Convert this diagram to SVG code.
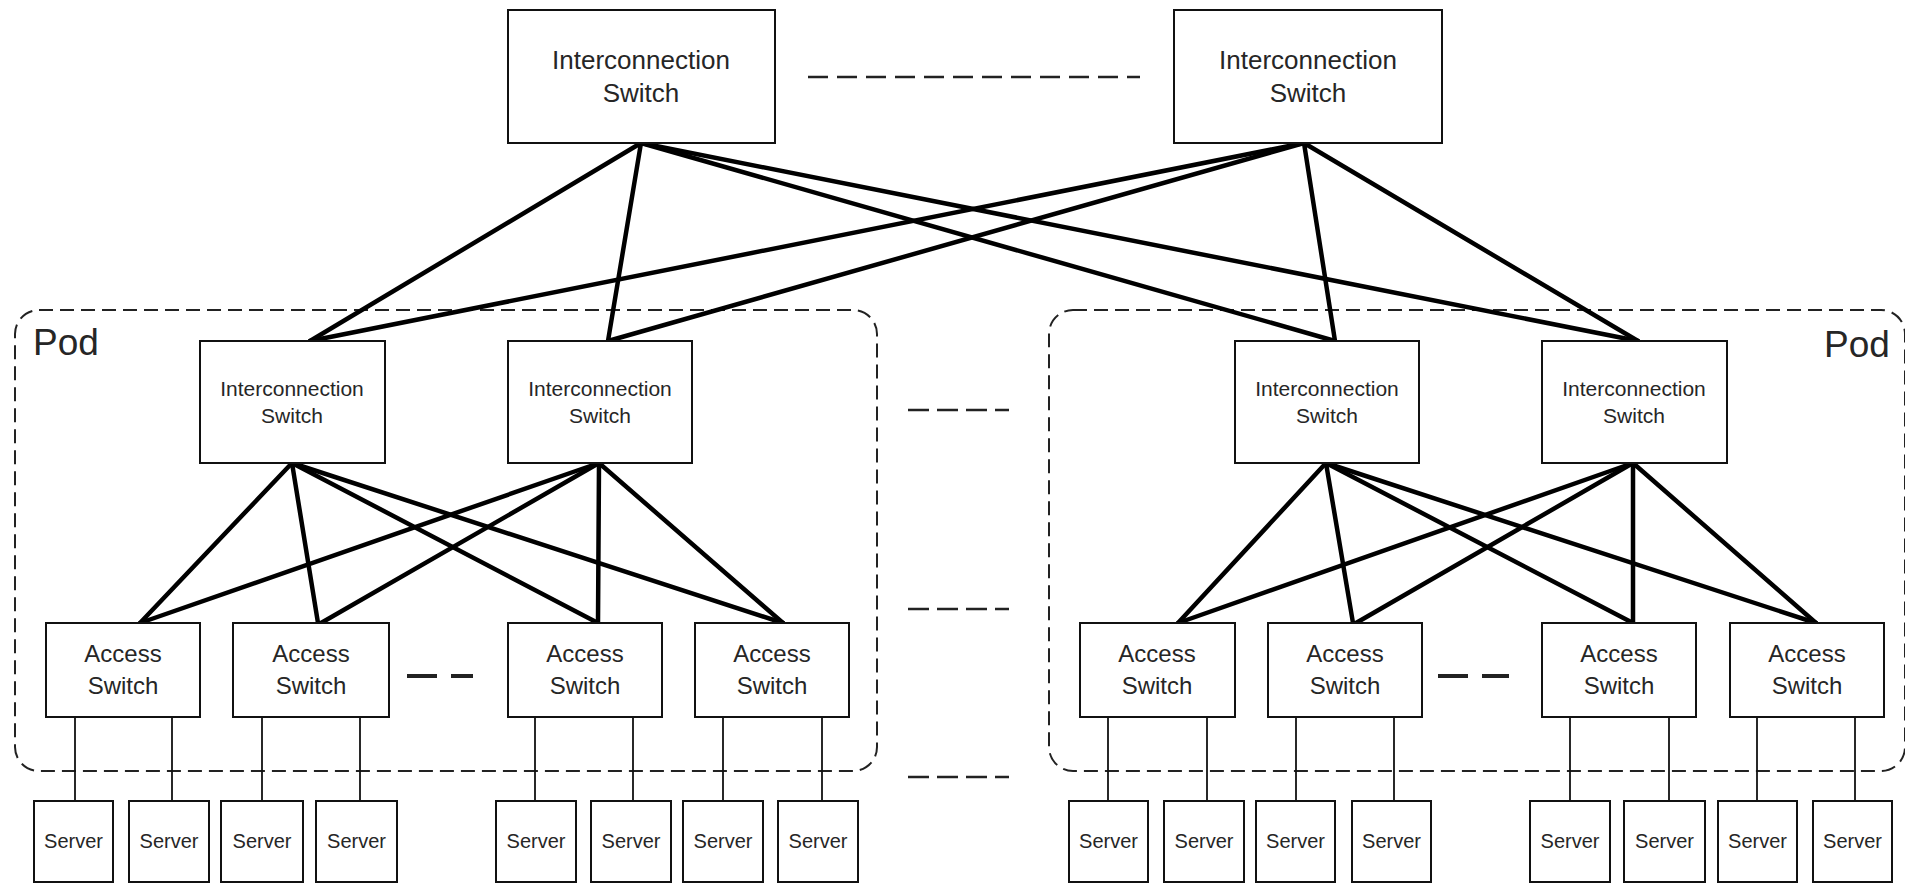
<svg xmlns="http://www.w3.org/2000/svg" width="1905" height="883" viewBox="0 0 1905 883">
  <style>
    .box { fill: #ffffff; stroke: #111111; stroke-width: 2; }
    .pod { fill: none; stroke: #222222; stroke-width: 2; stroke-dasharray: 14 7; }
    .gap { fill: none; stroke: #222222; stroke-width: 2.5; stroke-dasharray: 21 8; }
    .gapthick { fill: none; stroke: #222222; stroke-width: 4; }
    .link { stroke: #000000; stroke-width: 4.5; stroke-linecap: round; fill: none; }
    .wire { stroke: #111111; stroke-width: 1.8; fill: none; }
    text { font-family: "Liberation Sans", Arial, sans-serif; fill: #262626; text-anchor: middle; dominant-baseline: central; }
    .t-core { font-size: 26px; }
    .t-agg { font-size: 21px; }
    .t-acc { font-size: 24px; }
    .t-srv { font-size: 20px; }
    .t-pod { font-size: 37px; text-anchor: start; dominant-baseline: auto; }
  </style>

  <rect width="1905" height="883" fill="#ffffff"/>

  <!-- pod outlines -->
  <g id="pod-left">
    <rect class="pod" x="15" y="310" width="862" height="461" rx="24"/>
    <text class="t-pod" x="33" y="355">Pod</text>
  </g>
  <g id="pod-right">
    <rect class="pod" x="1049" y="310" width="856" height="461" rx="24"/>
    <text class="t-pod" x="1824" y="357">Pod</text>
  </g>

  <!-- "more of the same" gaps -->
  <g id="ellipses">
    <line class="gap" x1="808" y1="77" x2="1140" y2="77" style="stroke-dasharray:20 9"/>
    <line class="gap" x1="908" y1="410" x2="1009" y2="410"/>
    <line class="gap" x1="908" y1="609" x2="1009" y2="609"/>
    <line class="gap" x1="908" y1="777" x2="1009" y2="777"/>
    <line class="gapthick" x1="407" y1="676" x2="437" y2="676"/>
    <line class="gapthick" x1="451" y1="676" x2="473" y2="676"/>
    <line class="gapthick" x1="1438" y1="676" x2="1468" y2="676"/>
    <line class="gapthick" x1="1482" y1="676" x2="1509" y2="676"/>
  </g>

  <!-- links -->
  <g id="connectors">
    <!-- core to aggregation -->
    <line class="link" x1="641" y1="143" x2="310" y2="341"/>
    <line class="link" x1="641" y1="143" x2="608" y2="341"/>
    <line class="link" x1="641" y1="143" x2="1335" y2="341"/>
    <line class="link" x1="641" y1="143" x2="1638" y2="341"/>
    <line class="link" x1="1304" y1="143" x2="310" y2="341"/>
    <line class="link" x1="1304" y1="143" x2="608" y2="341"/>
    <line class="link" x1="1304" y1="143" x2="1335" y2="341"/>
    <line class="link" x1="1304" y1="143" x2="1638" y2="341"/>
    <!-- left pod aggregation to access -->
    <line class="link" x1="292" y1="463" x2="140" y2="623"/>
    <line class="link" x1="292" y1="463" x2="318" y2="623"/>
    <line class="link" x1="292" y1="463" x2="598" y2="623"/>
    <line class="link" x1="292" y1="463" x2="783" y2="623"/>
    <line class="link" x1="599" y1="463" x2="140" y2="623"/>
    <line class="link" x1="599" y1="463" x2="321" y2="623"/>
    <line class="link" x1="599" y1="463" x2="598" y2="623"/>
    <line class="link" x1="599" y1="463" x2="783" y2="623"/>
    <!-- right pod aggregation to access -->
    <line class="link" x1="1326" y1="463" x2="1178" y2="623"/>
    <line class="link" x1="1326" y1="463" x2="1353" y2="623"/>
    <line class="link" x1="1326" y1="463" x2="1633" y2="623"/>
    <line class="link" x1="1326" y1="463" x2="1816" y2="623"/>
    <line class="link" x1="1633" y1="463" x2="1178" y2="623"/>
    <line class="link" x1="1633" y1="463" x2="1356" y2="623"/>
    <line class="link" x1="1633" y1="463" x2="1633" y2="623"/>
    <line class="link" x1="1633" y1="463" x2="1816" y2="623"/>
    <!-- access to servers -->
    <line class="wire" x1="75" y1="717" x2="75" y2="801"/>
    <line class="wire" x1="172" y1="717" x2="172" y2="801"/>
    <line class="wire" x1="262" y1="717" x2="262" y2="801"/>
    <line class="wire" x1="360" y1="717" x2="360" y2="801"/>
    <line class="wire" x1="535" y1="717" x2="535" y2="801"/>
    <line class="wire" x1="633" y1="717" x2="633" y2="801"/>
    <line class="wire" x1="723" y1="717" x2="723" y2="801"/>
    <line class="wire" x1="822" y1="717" x2="822" y2="801"/>
    <line class="wire" x1="1108" y1="717" x2="1108" y2="801"/>
    <line class="wire" x1="1207" y1="717" x2="1207" y2="801"/>
    <line class="wire" x1="1296" y1="717" x2="1296" y2="801"/>
    <line class="wire" x1="1394" y1="717" x2="1394" y2="801"/>
    <line class="wire" x1="1570" y1="717" x2="1570" y2="801"/>
    <line class="wire" x1="1669" y1="717" x2="1669" y2="801"/>
    <line class="wire" x1="1757" y1="717" x2="1757" y2="801"/>
    <line class="wire" x1="1855" y1="717" x2="1855" y2="801"/>
  </g>

  <!-- core switches -->
  <g id="core-1">
    <rect class="box" x="508" y="10" width="267" height="133"/>
    <text class="t-core" x="641" y="60">Interconnection</text>
    <text class="t-core" x="641" y="93">Switch</text>
  </g>
  <g id="core-2">
    <rect class="box" x="1174" y="10" width="268" height="133"/>
    <text class="t-core" x="1308" y="60">Interconnection</text>
    <text class="t-core" x="1308" y="93">Switch</text>
  </g>

  <!-- aggregation switches -->
  <g id="agg-1">
    <rect class="box" x="200" y="341" width="185" height="122"/>
    <text class="t-agg" x="292" y="388">Interconnection</text>
    <text class="t-agg" x="292" y="415">Switch</text>
  </g>
  <g id="agg-2">
    <rect class="box" x="508" y="341" width="184" height="122"/>
    <text class="t-agg" x="600" y="388">Interconnection</text>
    <text class="t-agg" x="600" y="415">Switch</text>
  </g>
  <g id="agg-3">
    <rect class="box" x="1235" y="341" width="184" height="122"/>
    <text class="t-agg" x="1327" y="388">Interconnection</text>
    <text class="t-agg" x="1327" y="415">Switch</text>
  </g>
  <g id="agg-4">
    <rect class="box" x="1542" y="341" width="185" height="122"/>
    <text class="t-agg" x="1634" y="388">Interconnection</text>
    <text class="t-agg" x="1634" y="415">Switch</text>
  </g>

  <!-- access switches -->
  <g id="acc-1">
    <rect class="box" x="46" y="623" width="154" height="94"/>
    <text class="t-acc" x="123" y="653">Access</text>
    <text class="t-acc" x="123" y="685">Switch</text>
  </g>
  <g id="acc-2">
    <rect class="box" x="233" y="623" width="156" height="94"/>
    <text class="t-acc" x="311" y="653">Access</text>
    <text class="t-acc" x="311" y="685">Switch</text>
  </g>
  <g id="acc-3">
    <rect class="box" x="508" y="623" width="154" height="94"/>
    <text class="t-acc" x="585" y="653">Access</text>
    <text class="t-acc" x="585" y="685">Switch</text>
  </g>
  <g id="acc-4">
    <rect class="box" x="695" y="623" width="154" height="94"/>
    <text class="t-acc" x="772" y="653">Access</text>
    <text class="t-acc" x="772" y="685">Switch</text>
  </g>
  <g id="acc-5">
    <rect class="box" x="1080" y="623" width="155" height="94"/>
    <text class="t-acc" x="1157" y="653">Access</text>
    <text class="t-acc" x="1157" y="685">Switch</text>
  </g>
  <g id="acc-6">
    <rect class="box" x="1268" y="623" width="154" height="94"/>
    <text class="t-acc" x="1345" y="653">Access</text>
    <text class="t-acc" x="1345" y="685">Switch</text>
  </g>
  <g id="acc-7">
    <rect class="box" x="1542" y="623" width="154" height="94"/>
    <text class="t-acc" x="1619" y="653">Access</text>
    <text class="t-acc" x="1619" y="685">Switch</text>
  </g>
  <g id="acc-8">
    <rect class="box" x="1730" y="623" width="154" height="94"/>
    <text class="t-acc" x="1807" y="653">Access</text>
    <text class="t-acc" x="1807" y="685">Switch</text>
  </g>

  <!-- servers -->
  <g id="srv-1"><rect class="box" x="34" y="801" width="79" height="81"/><text class="t-srv" x="73.5" y="841">Server</text></g>
  <g id="srv-2"><rect class="box" x="129" y="801" width="80" height="81"/><text class="t-srv" x="169" y="841">Server</text></g>
  <g id="srv-3"><rect class="box" x="221" y="801" width="82" height="81"/><text class="t-srv" x="262" y="841">Server</text></g>
  <g id="srv-4"><rect class="box" x="316" y="801" width="81" height="81"/><text class="t-srv" x="356.5" y="841">Server</text></g>
  <g id="srv-5"><rect class="box" x="496" y="801" width="80" height="81"/><text class="t-srv" x="536" y="841">Server</text></g>
  <g id="srv-6"><rect class="box" x="591" y="801" width="80" height="81"/><text class="t-srv" x="631" y="841">Server</text></g>
  <g id="srv-7"><rect class="box" x="683" y="801" width="80" height="81"/><text class="t-srv" x="723" y="841">Server</text></g>
  <g id="srv-8"><rect class="box" x="778" y="801" width="80" height="81"/><text class="t-srv" x="818" y="841">Server</text></g>
  <g id="srv-9"><rect class="box" x="1069" y="801" width="79" height="81"/><text class="t-srv" x="1108.5" y="841">Server</text></g>
  <g id="srv-10"><rect class="box" x="1164" y="801" width="80" height="81"/><text class="t-srv" x="1204" y="841">Server</text></g>
  <g id="srv-11"><rect class="box" x="1256" y="801" width="79" height="81"/><text class="t-srv" x="1295.5" y="841">Server</text></g>
  <g id="srv-12"><rect class="box" x="1352" y="801" width="79" height="81"/><text class="t-srv" x="1391.5" y="841">Server</text></g>
  <g id="srv-13"><rect class="box" x="1530" y="801" width="80" height="81"/><text class="t-srv" x="1570" y="841">Server</text></g>
  <g id="srv-14"><rect class="box" x="1624" y="801" width="81" height="81"/><text class="t-srv" x="1664.5" y="841">Server</text></g>
  <g id="srv-15"><rect class="box" x="1718" y="801" width="79" height="81"/><text class="t-srv" x="1757.5" y="841">Server</text></g>
  <g id="srv-16"><rect class="box" x="1813" y="801" width="79" height="81"/><text class="t-srv" x="1852.5" y="841">Server</text></g>
</svg>
